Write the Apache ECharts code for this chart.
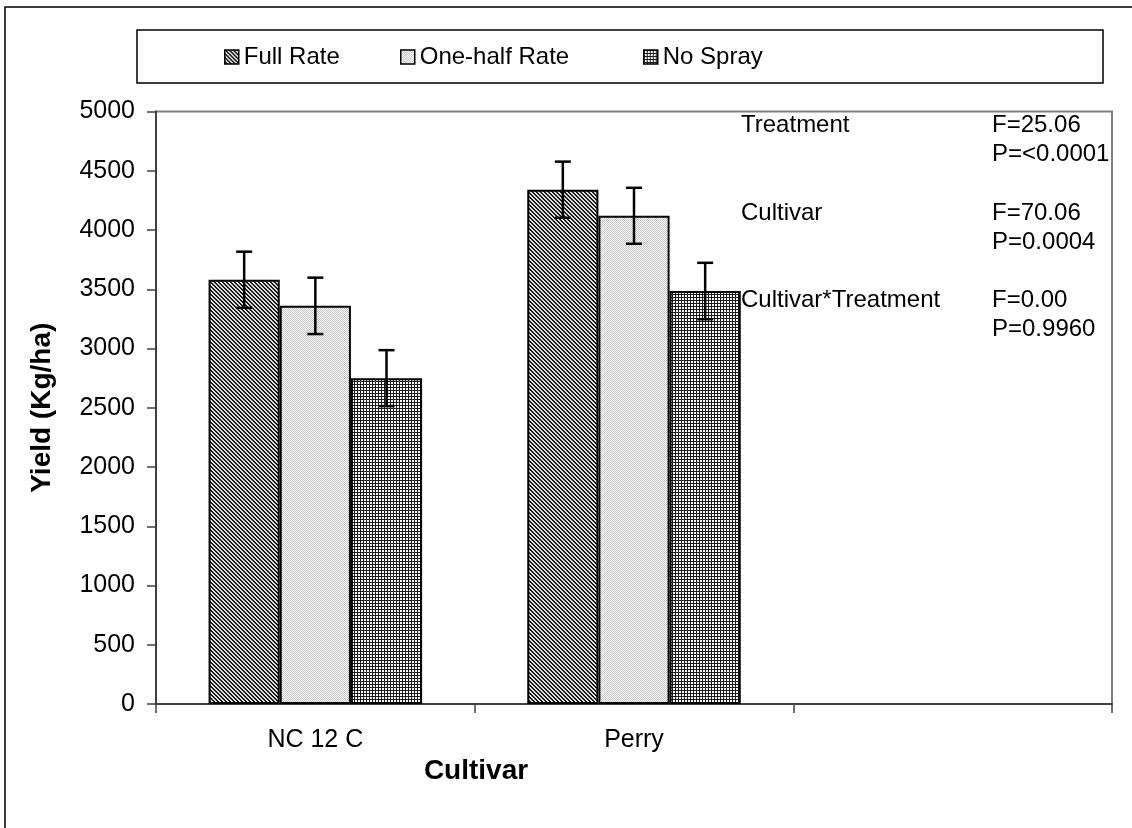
<!DOCTYPE html>
<html>
<head>
<meta charset="utf-8">
<script src="https://cdn.jsdelivr.net/npm/echarts@6/dist/echarts.min.js"></script>
<style>
html,body{margin:0;padding:0;background:#fff;}
#chart{width:1132px;height:828px;}
</style>
</head>
<body>
<div id="chart"></div>
<script>
// ---- data ----
const categories = ['NC 12 C', 'Perry', ''];
const seriesNames = ['Full Rate', 'One-half Rate', 'No Spray'];
const fullRate = [3580, 4340];
const halfRate = [3360, 4120];
const noSpray = [2750, 3485];
const fullRateErr = [237, 237];
const halfRateErr = [238, 236];
const noSprayErr = [236, 238];
const yTicks = { min: 0, max: 5000, interval: 500 };
const statNames = ['Treatment', 'Cultivar', 'Cultivar*Treatment'];
const statF = ['F=25.06', 'F=70.06', 'F=0.00'];
const statP = ['P=<0.0001', 'P=0.0004', 'P=0.9960'];

// ---- patterns ----
function makePattern(size, fn) {
  const c = document.createElement('canvas');
  c.width = size; c.height = size;
  const ctx = c.getContext('2d');
  for (let y = 0; y < size; y++) {
    for (let x = 0; x < size; x++) {
      ctx.fillStyle = fn(x, y);
      ctx.fillRect(x, y, 1, 1);
    }
  }
  return { image: c, repeat: 'repeat' };
}
const patFull = makePattern(4, (x, y) => (((x - y) % 4 + 4) % 4 < 2 ? '#1a1a1a' : '#e0e0e0'));
const patHalf = makePattern(2, (x, y) => ((x + y) % 2 === 0 ? '#c4c4c4' : '#ffffff'));
const patNo = makePattern(3, (x, y) => (x === 0 || y === 0 ? '#1a1a1a' : '#ffffff'));
const patterns = [patFull, patHalf, patNo];

const values = [fullRate, halfRate, noSpray];
const errs = [fullRateErr, halfRateErr, noSprayErr];
const CAT_GAP = 0.33;
const FONT = '"Liberation Sans", Arial, sans-serif';

const chart = echarts.init(document.getElementById('chart'), null, { renderer: 'canvas' });

const series = [];
seriesNames.forEach((name, i) => {
  series.push({
    name: name,
    type: 'bar',
    data: values[i],
    barGap: '0%',
    barCategoryGap: (CAT_GAP * 100) + '%',
    itemStyle: { color: patterns[i], borderColor: '#000', borderWidth: 2 },
    emphasis: { disabled: true },
    z: 2
  });
});
seriesNames.forEach((name, i) => {
  series.push({
    type: 'custom',
    name: name + ' error',
    data: values[i].map((v, k) => [k, v, errs[i][k]]),
    encode: { x: 0, y: 1 },
    z: 5,
    silent: true,
    renderItem: function (params, api) {
      const cat = api.value(0), v = api.value(1), e = api.value(2);
      const band = api.size([1, 0])[0];
      const bw = band * (1 - CAT_GAP) / 3;
      const pTop = api.coord([cat, v + e]);
      const pBot = api.coord([cat, v - e]);
      const x = pTop[0] + (i - 1) * bw;
      const cap = 8;
      const st = { stroke: '#000', lineWidth: 2.5 };
      return {
        type: 'group',
        children: [
          { type: 'line', shape: { x1: x, y1: pTop[1], x2: x, y2: pBot[1] }, style: st },
          { type: 'line', shape: { x1: x - cap, y1: pTop[1], x2: x + cap, y2: pTop[1] }, style: st },
          { type: 'line', shape: { x1: x - cap, y1: pBot[1], x2: x + cap, y2: pBot[1] }, style: st }
        ]
      };
    }
  });
});

const legendX = [224, 400, 643];
const legends = seriesNames.map((n, i) => ({
  data: [n],
  left: legendX[i],
  top: 45,
  padding: 0,
  itemWidth: 14,
  itemHeight: 14,
  icon: 'rect',
  selectedMode: false,
  itemStyle: { borderColor: '#000', borderWidth: 1.5 },
  textStyle: { fontFamily: FONT, fontSize: 24, color: '#000', lineHeight: 24 }
}));

const graphics = [
  { type: 'rect', shape: { x: 5, y: 7, width: 1200, height: 900 }, style: { fill: 'none', stroke: '#000', lineWidth: 1.5 }, silent: true, z: 0 },
  { type: 'rect', shape: { x: 137, y: 30, width: 966, height: 53 }, style: { fill: 'none', stroke: '#000', lineWidth: 1.5 }, silent: true, z: 0 },
  { type: 'text', x: 476, y: 771, style: { text: 'Cultivar', font: 'bold 28px ' + FONT, fill: '#000', textAlign: 'center', textVerticalAlign: 'middle' }, silent: true }
];
const rowY = [125, 213, 300];
statNames.forEach((s, k) => {
  graphics.push({ type: 'text', x: 741, y: rowY[k], style: { text: s, font: '24px ' + FONT, fill: '#000', textAlign: 'left', textVerticalAlign: 'middle' }, silent: true, z: 10 });
  graphics.push({ type: 'text', x: 992, y: rowY[k], style: { text: statF[k], font: '24px ' + FONT, fill: '#000', textAlign: 'left', textVerticalAlign: 'middle' }, silent: true, z: 10 });
  graphics.push({ type: 'text', x: 992, y: rowY[k] + 29, style: { text: statP[k], font: '24px ' + FONT, fill: '#000', textAlign: 'left', textVerticalAlign: 'middle' }, silent: true, z: 10 });
});

chart.setOption({
  animation: false,
  backgroundColor: '#fff',
  legend: legends,
  grid: { left: 156, right: 20, top: 111.5, bottom: 124, show: true, borderColor: '#808080', borderWidth: 2, backgroundColor: 'transparent' },
  xAxis: {
    type: 'category',
    data: categories,
    axisLine: { lineStyle: { color: '#404040', width: 2 } },
    axisTick: { show: true, length: 9, alignWithLabel: false, lineStyle: { color: '#404040', width: 1.5 } },
    axisLabel: { fontFamily: FONT, fontSize: 25, color: '#000', margin: 24 },
    splitLine: { show: false }
  },
  yAxis: {
    type: 'value',
    min: yTicks.min, max: yTicks.max, interval: yTicks.interval,
    name: 'Yield (Kg/ha)',
    nameLocation: 'middle',
    nameRotate: 90,
    nameGap: 100,
    nameTextStyle: { fontFamily: FONT, fontSize: 28, fontWeight: 'bold', color: '#000' },
    axisLine: { show: true, lineStyle: { color: '#404040', width: 2 } },
    axisTick: { show: true, length: 9, lineStyle: { color: '#404040', width: 1.5 } },
    axisLabel: { fontFamily: FONT, fontSize: 25, color: '#000', margin: 21, formatter: function (v) { return String(v); } },
    splitLine: { show: false }
  },
  graphic: graphics,
  series: series
});
</script>
</body>
</html>
